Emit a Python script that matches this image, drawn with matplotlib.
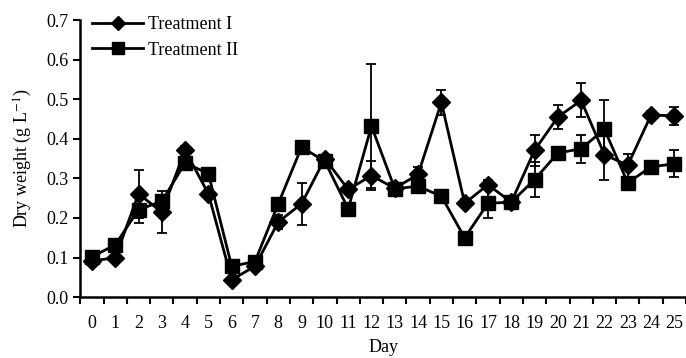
import numpy as np
import matplotlib
matplotlib.use("Agg")
import matplotlib.pyplot as plt

# data
days = np.arange(26)
t1 = [0.092, 0.099, 0.261, 0.215, 0.371, 0.261, 0.044, 0.078, 0.19, 0.236,
      0.35, 0.272, 0.307, 0.275, 0.31, 0.492, 0.237, 0.284, 0.24, 0.371,
      0.455, 0.497, 0.36, 0.333, 0.46, 0.458]
t1_err = [0.005, 0.005, 0.06, 0.052, 0.01, 0.01, 0.005, 0.005, 0.017, 0.053,
          0.01, 0.01, 0.036, 0.01, 0.02, 0.031, 0.01, 0.012, 0.005, 0.039,
          0.031, 0.043, 0.063, 0.029, 0.01, 0.022]
t2 = [0.102, 0.132, 0.221, 0.242, 0.339, 0.312, 0.078, 0.09, 0.236, 0.379,
      0.343, 0.223, 0.432, 0.274, 0.28, 0.255, 0.15, 0.237, 0.24, 0.297,
      0.364, 0.375, 0.424, 0.289, 0.329, 0.337]
t2_err = [0.005, 0.01, 0.033, 0.01, 0.01, 0.005, 0.005, 0.005, 0.01, 0.005,
          0.01, 0.005, 0.156, 0.005, 0.01, 0.01, 0.005, 0.037, 0.005, 0.045,
          0.01, 0.035, 0.073, 0.005, 0.005, 0.034]

plt.rcParams['font.family'] = ['Liberation Serif', 'DejaVu Serif']
plt.rcParams['mathtext.fontset'] = 'stix'
fs = 13

fig = plt.figure(figsize=(6.86, 3.58), dpi=100)
ax = fig.add_axes([0.117, 0.170, 0.883, 0.774])

# error bars first, lines + markers on top
ax.errorbar(days, t1, yerr=t1_err, fmt='none', ecolor='black',
            elinewidth=1.3, capsize=3.5, capthick=1.3)
ax.errorbar(days, t2, yerr=t2_err, fmt='none', ecolor='black',
            elinewidth=1.3, capsize=3.5, capthick=1.3)
ax.plot(days, t1, color='black', marker='D', ms=9, lw=2, label='Treatment I')
ax.plot(days, t2, color='black', marker='s', ms=10.5, lw=2, label='Treatment II')

ax.set_xlim(-0.5, 25.5)
ax.set_ylim(0, 0.7)
ax.set_yticks(np.arange(0, 0.71, 0.1))
ax.set_yticklabels(['%.1f' % v for v in np.arange(0, 0.71, 0.1)])
ax.set_xticks(np.arange(-0.5, 26, 1))
ax.set_xticklabels([])
ax.set_xticks(days, minor=True)
ax.set_xticklabels([str(d) for d in days], minor=True)
ax.tick_params(axis='x', which='minor', length=0, pad=13, labelsize=fs)
ax.tick_params(axis='both', which='major', direction='out', length=5,
               width=1.5, labelsize=fs)

for s in ['top', 'right']:
    ax.spines[s].set_visible(False)
for s in ['left', 'bottom']:
    ax.spines[s].set_linewidth(1.8)

ax.set_xlabel('Day', fontsize=fs, labelpad=5)
ax.set_ylabel('Dry weight (g L$^{-1}$)', fontsize=fs, labelpad=9)

leg = ax.legend(loc='upper left', frameon=False, fontsize=fs, handlelength=2.8,
                handletextpad=0.3, labelspacing=0.45, borderaxespad=0,
                borderpad=0, markerscale=0.8, bbox_to_anchor=(0.02, 1.013))

fig.savefig('out.png', dpi=100)
